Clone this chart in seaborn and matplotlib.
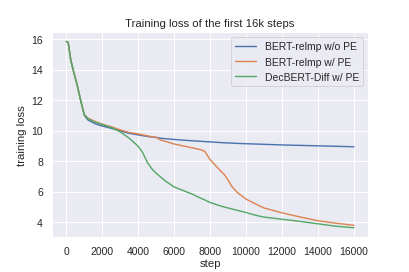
import pandas as pd
import seaborn as sns
import matplotlib.pyplot as plt
import numpy as np

steps = [0, 100, 250, 400, 600, 800, 1000, 1200, 1600, 2000, 2500, 3000, 3500,
         4000, 4250, 4500, 4750, 5000, 5250, 5500, 6000, 7000, 7500, 7700, 8000,
         8500, 8800, 9000, 9200, 9500, 10000, 10500, 11000, 12000, 13000, 14000,
         15000, 16000]

loss_no_pe = [15.85, 15.8, 14.6, 13.9, 13.0, 11.97, 11.0, 10.7, 10.45, 10.3, 10.15,
              9.98, 9.82, 9.72, 9.67, 9.62, 9.58, 9.55, 9.5, 9.47, 9.42, 9.33, 9.3,
              9.28, 9.26, 9.22, 9.2, 9.19, 9.18, 9.16, 9.14, 9.12, 9.1, 9.06, 9.03,
              9.0, 8.97, 8.94]

loss_pe = [15.85, 15.8, 14.6, 13.9, 13.0, 11.97, 11.05, 10.82, 10.6, 10.42, 10.25,
           10.05, 9.88, 9.78, 9.72, 9.66, 9.6, 9.56, 9.38, 9.3, 9.12, 8.87, 8.74,
           8.64, 8.1, 7.45, 7.1, 6.75, 6.35, 5.95, 5.5, 5.2, 4.92, 4.6, 4.33, 4.08,
           3.92, 3.78]

loss_dec = [15.85, 15.8, 14.6, 13.9, 13.0, 11.97, 11.05, 10.78, 10.55, 10.4, 10.2,
            9.92, 9.5, 8.97, 8.55, 7.93, 7.5, 7.2, 6.95, 6.7, 6.3, 5.83, 5.55, 5.45,
            5.28, 5.08, 4.98, 4.92, 4.86, 4.77, 4.62, 4.45, 4.32, 4.18, 4.04, 3.88,
            3.72, 3.62]

labels = ["BERT-relmp w/o PE", "BERT-relmp w/ PE", "DecBERT-Diff w/ PE"]

df = pd.DataFrame({"step": steps,
                   labels[0]: loss_no_pe,
                   labels[1]: loss_pe,
                   labels[2]: loss_dec})
df_long = df.melt(id_vars="step", var_name="model", value_name="loss")

sns.set_theme(style="darkgrid")
plt.rcParams["font.family"] = ["Liberation Sans", "DejaVu Sans"]

fig, ax = plt.subplots(figsize=(6, 4), dpi=68.2)
fig.subplots_adjust(left=0.127, right=0.9, top=0.879, bottom=0.128)
sns.lineplot(data=df_long, x="step", y="loss", hue="model", hue_order=labels,
             linewidth=1.5, ax=ax)
ax.set_title("Training loss of the first 16k steps")
ax.set_xlabel("step", labelpad=2)
ax.set_ylabel("training loss")
ax.set_xticks(np.arange(0, 16001, 2000))
ax.set_yticks([4, 6, 8, 10, 12, 14, 16])
ax.legend(loc="upper right", title=None)
fig.savefig("out.png", dpi=68.2)
